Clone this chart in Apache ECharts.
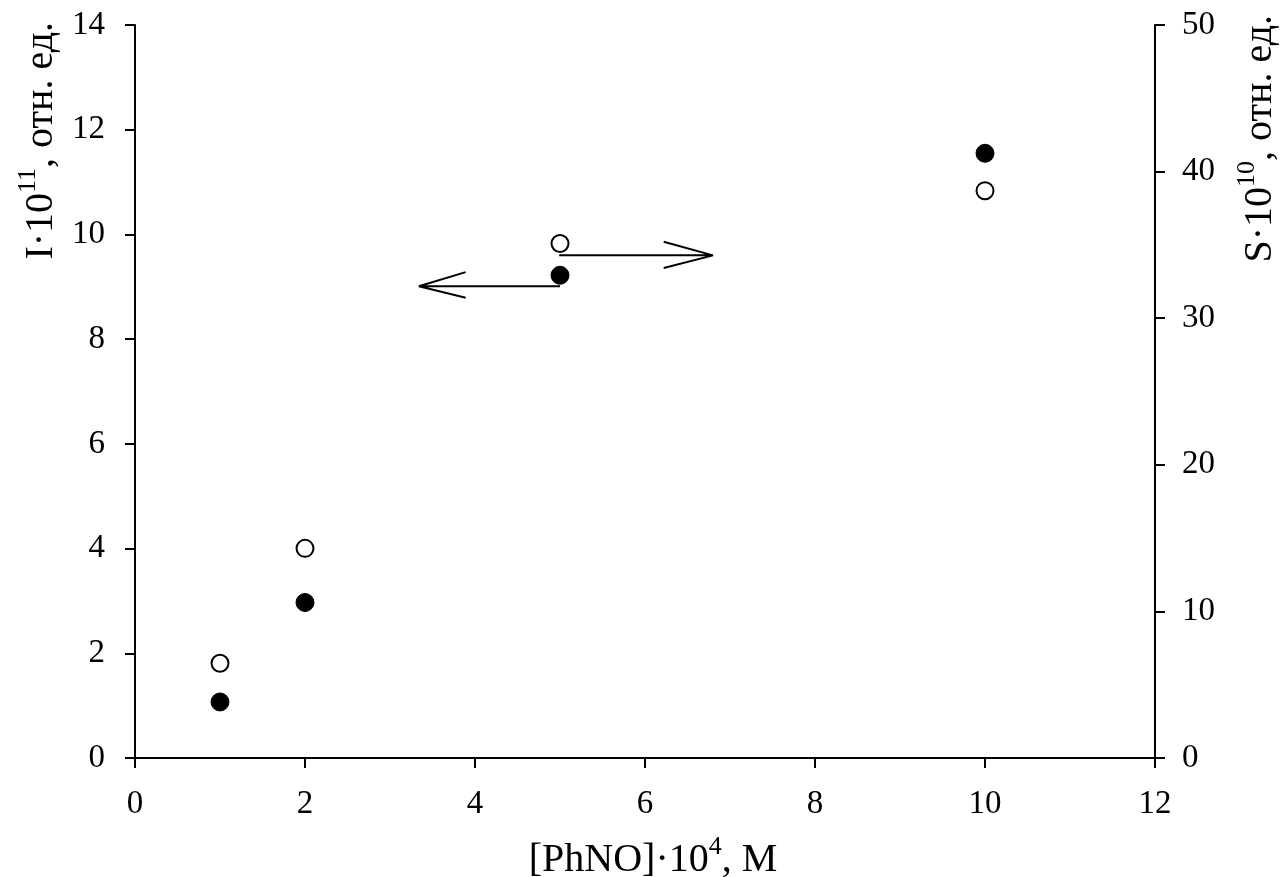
<!DOCTYPE html>
<html>
<head>
<meta charset="utf-8">
<script src="https://cdn.jsdelivr.net/npm/echarts@6/dist/echarts.min.js"></script>
<style>
  html, body { margin: 0; padding: 0; background: #fff; }
  #chart { width: 1282px; height: 877px; }
</style>
</head>
<body>
<div id="chart"></div>
<script>
// [PhNO]·10^4, M
const concentration = [1, 2, 5, 10];
// I·10^11 (left axis, filled circles)
const intensityI = [1.07, 2.97, 9.22, 11.55];
// S·10^10 (right axis, open circles)
const signalS = [6.46, 14.3, 35.1, 38.7];

const xTicks = [0, 2, 4, 6, 8, 10, 12];
const leftTicks = [0, 2, 4, 6, 8, 10, 12, 14];
const rightTicks = [0, 10, 20, 30, 40, 50];

// Arrows pointing to the axis each series belongs to (left-axis units)
const arrowLeft = [[5, 9.01], [3.34, 9.01], [3.89, 9.28], [3.34, 9.01], [3.89, 8.79]];
const arrowRight = [[4.99, 9.6], [6.8, 9.6], [6.22, 9.86], [6.8, 9.6], [6.22, 9.36]];

const FONT = '"Liberation Serif", "Times New Roman", serif';
const pairs = (xs, ys) => xs.map((x, i) => [x, ys[i]]);

const chart = echarts.init(document.getElementById('chart'), null, { renderer: 'canvas' });

const axisLine = { show: true, lineStyle: { color: '#000', width: 2 } };
const axisTick = { show: true, inside: false, length: 10, lineStyle: { color: '#000', width: 2 } };
const tickLabel = (margin) => ({ color: '#000', fontFamily: FONT, fontSize: 33, margin: margin });

// Title text with a raised exponent
const richTitle = {
  a: { fontFamily: FONT, fontSize: 40, color: '#000', lineHeight: 46, verticalAlign: 'bottom' },
  sup: { fontFamily: FONT, fontSize: 26, color: '#000', lineHeight: 26, verticalAlign: 'top' }
};
const titleStyle = (text, align) => ({
  text: text, rich: richTitle, fontFamily: FONT, fontSize: 40, fill: '#000',
  align: align, verticalAlign: 'middle'
});

chart.setOption({
  animation: false,
  backgroundColor: '#fff',
  grid: { left: 135, right: 127, top: 25, bottom: 119, containLabel: false },
  xAxis: {
    type: 'value', min: xTicks[0], max: xTicks[xTicks.length - 1], interval: 2,
    axisLine: axisLine, axisTick: axisTick, splitLine: { show: false },
    axisLabel: tickLabel(30)
  },
  yAxis: [
    {
      type: 'value', position: 'left',
      min: leftTicks[0], max: leftTicks[leftTicks.length - 1], interval: 2,
      axisLine: axisLine, axisTick: axisTick, splitLine: { show: false },
      axisLabel: tickLabel(30)
    },
    {
      type: 'value', position: 'right',
      min: rightTicks[0], max: rightTicks[rightTicks.length - 1], interval: 10,
      axisLine: axisLine, axisTick: axisTick, splitLine: { show: false },
      axisLabel: tickLabel(27)
    }
  ],
  series: [
    {
      name: 'I', type: 'scatter', yAxisIndex: 0,
      data: pairs(concentration, intensityI),
      symbol: 'circle', symbolSize: 18,
      itemStyle: { color: '#000', borderColor: '#000', borderWidth: 1, opacity: 1 },
      emphasis: { disabled: true }
    },
    {
      name: 'S', type: 'scatter', yAxisIndex: 1,
      data: pairs(concentration, signalS),
      symbol: 'circle', symbolSize: 17,
      itemStyle: { color: '#fff', borderColor: '#000', borderWidth: 2, opacity: 1 },
      emphasis: { disabled: true }
    },
    {
      type: 'line', yAxisIndex: 0, data: arrowLeft, showSymbol: false, symbol: 'none',
      lineStyle: { color: '#000', width: 2 }, silent: true, z: 1
    },
    {
      type: 'line', yAxisIndex: 0, data: arrowRight, showSymbol: false, symbol: 'none',
      lineStyle: { color: '#000', width: 2 }, silent: true, z: 1
    }
  ],
  graphic: [
    {
      type: 'text', x: 653, y: 857,
      style: titleStyle('{a|[PhNO]·10}{sup|4}{a|, М}', 'center')
    },
    {
      type: 'text', x: 38, y: 22, rotation: Math.PI / 2,
      style: titleStyle('{a|I·10}{sup|11}{a|, отн. ед.}', 'right')
    },
    {
      type: 'text', x: 1257, y: 15, rotation: Math.PI / 2,
      style: titleStyle('{a|S·10}{sup|10}{a|, отн. ед.}', 'right')
    }
  ]
});
</script>
</body>
</html>
